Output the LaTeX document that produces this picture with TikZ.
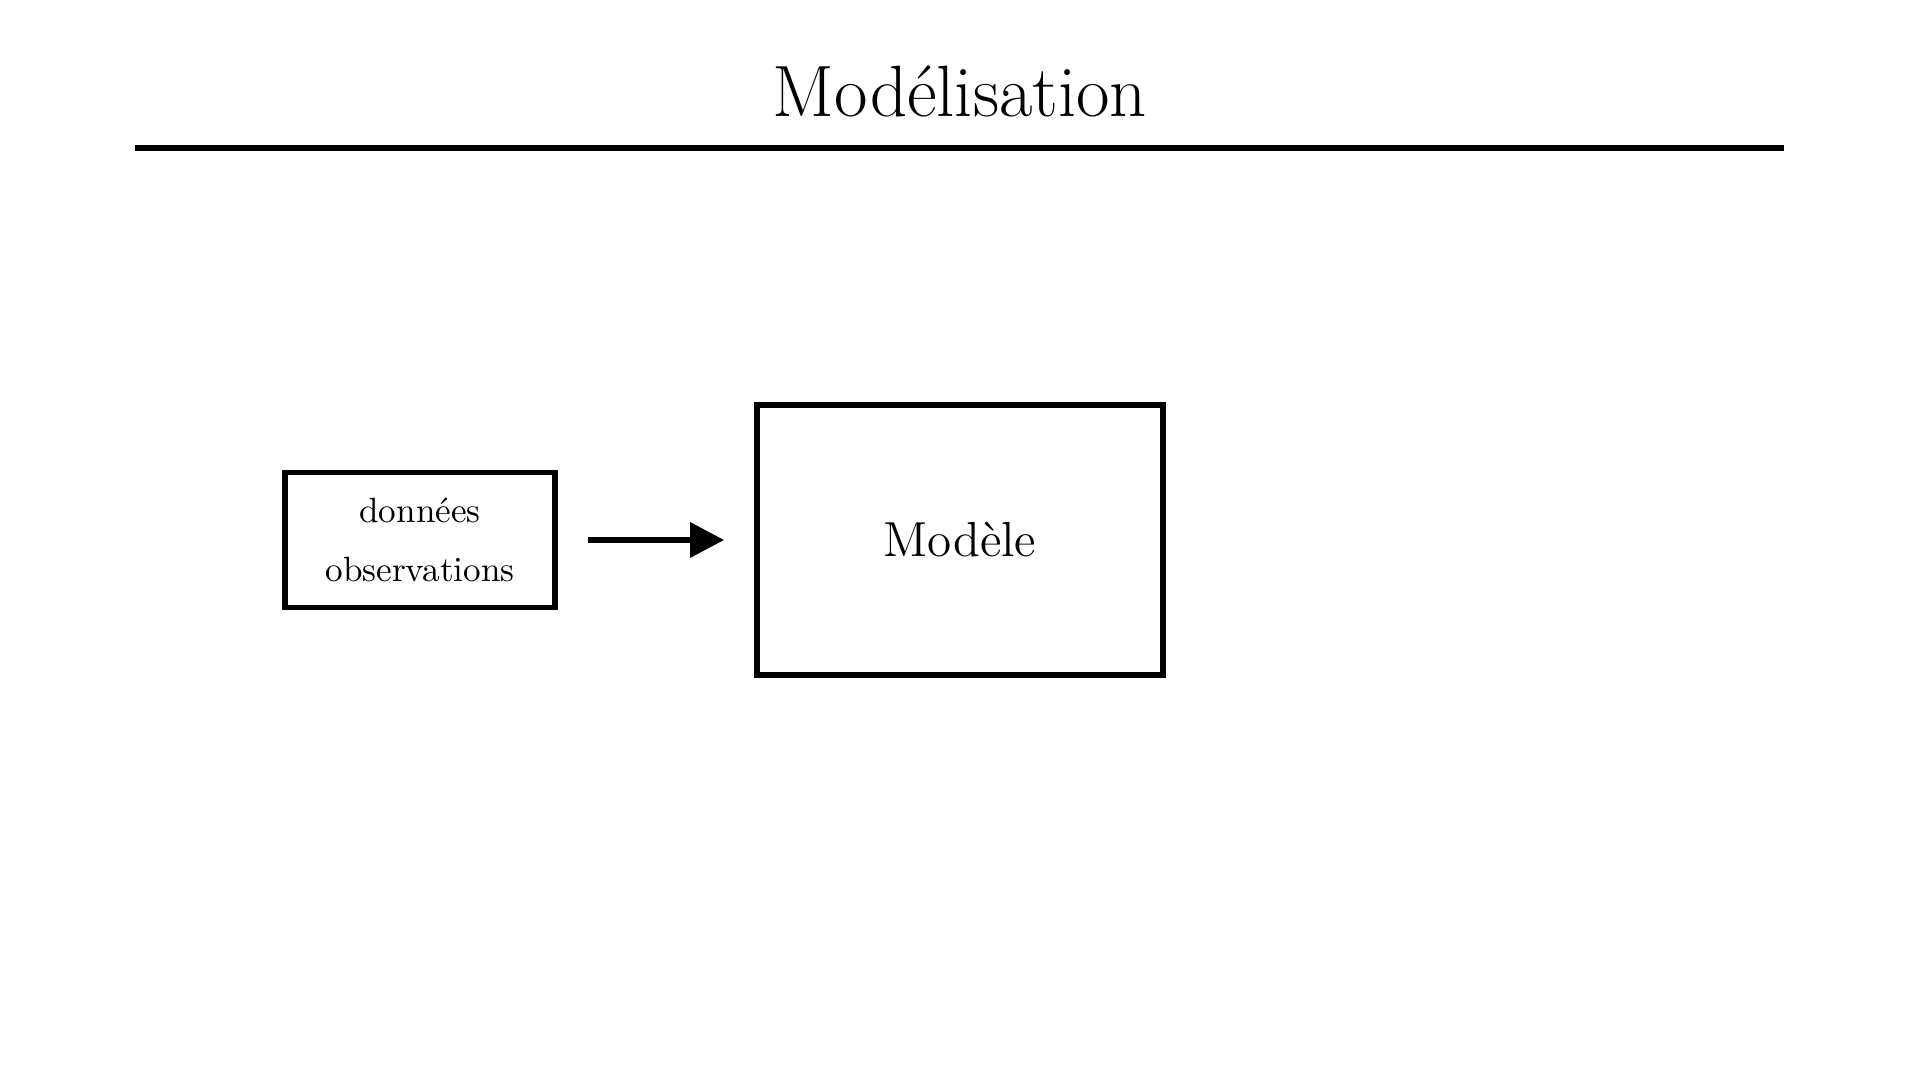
\documentclass[tikz,border=0pt]{standalone}
\usepackage{tikz}
\usetikzlibrary{arrows.meta,positioning}

\begin{document}
\begin{tikzpicture}[
    box/.style={draw, line width=1.6pt, inner sep=0pt, align=center},
    flow/.style={-{Triangle[length=3.4mm,width=3.4mm]}, line width=1.8pt}
  ]
  \useasboundingbox (0,0) rectangle (19.2,10.8);

  %% Title and rule
  \node[anchor=base, font=\fontsize{20.7}{25}\selectfont] (title) at (9.6,9.63) {Modélisation};
  \coordinate (ruleL) at (1.35,9.32);
  \coordinate (ruleR) at (17.84,9.32);
  \draw[line width=1.8pt] (ruleL) -- (ruleR);

  %% Boxes
  \node[box, minimum width=2.70cm, minimum height=1.35cm] (obs) at (4.20,5.40)
    {données\\[5pt]observations};
  \node[box, minimum width=4.06cm, minimum height=2.70cm,
        font=\fontsize{14}{17}\selectfont] (model) at (9.60,5.40) {Modèle};

  %% Arrow
  \draw[flow, shorten <=0.30cm, shorten >=0.30cm] (obs) -- (model);

\end{tikzpicture}
\end{document}
